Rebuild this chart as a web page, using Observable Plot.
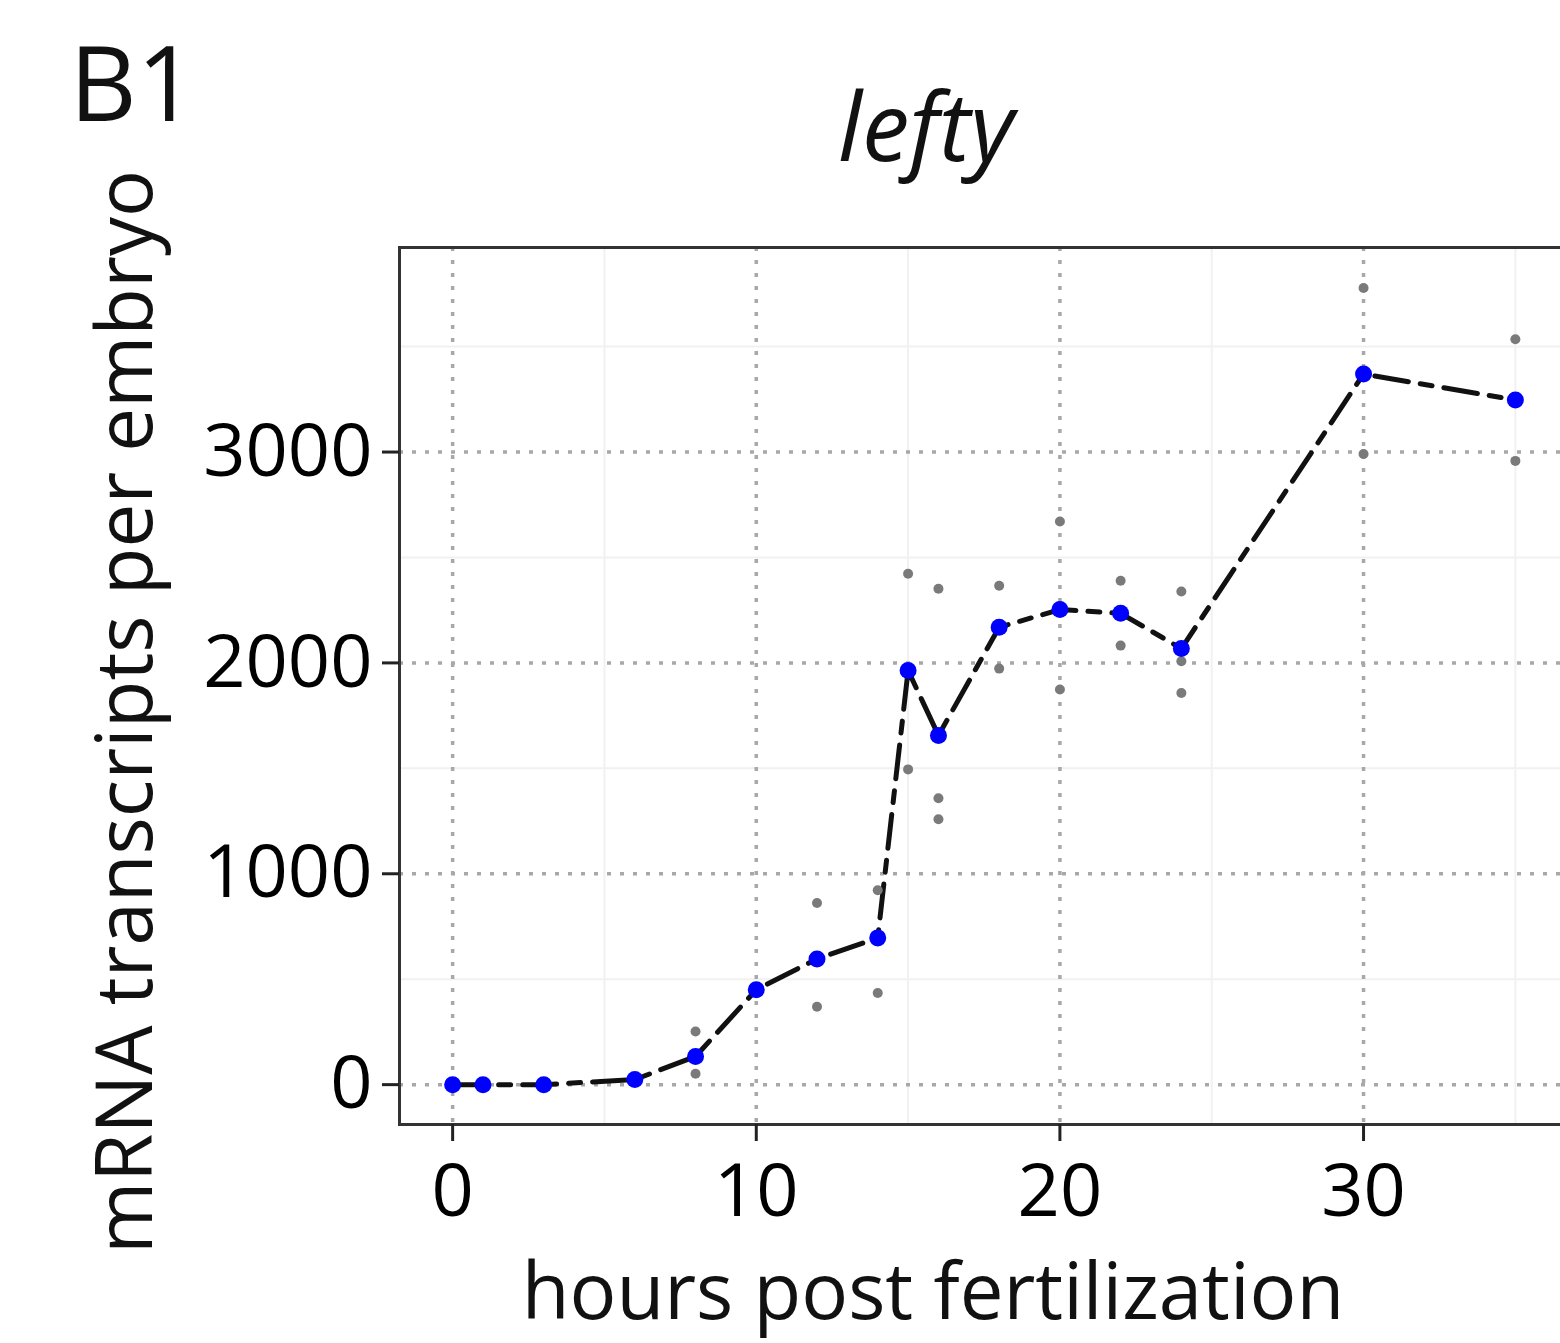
<!DOCTYPE html>
<html>
<head>
<meta charset="utf-8">
<script src="https://cdn.jsdelivr.net/npm/d3@7"></script>
<script src="https://cdn.jsdelivr.net/npm/@observablehq/plot@0.6"></script>
<style>
  html, body { margin: 0; padding: 0; background: #fff; overflow: hidden; }
  #chart { width: 1560px; height: 1343px; overflow: hidden; }
  #chart svg { max-width: none !important; }
</style>
</head>
<body>
<div id="chart"></div>
<script>
// Mean values (blue)
const meanHours = [0, 1, 3, 6, 8, 10, 12, 14, 15, 16, 18, 20, 22, 24, 30, 35];
const meanValues = [0, 0, 0, 24, 134, 450, 596, 696, 1964, 1656, 2169, 2253, 2235, 2068, 3370, 3247];

// Replicate values (grey), visible ones
const repHours = [8, 8, 12, 12, 14, 14, 15, 15, 16, 16, 16, 18, 18, 20, 20, 22, 22, 24, 24, 24, 30, 30, 35, 35];
const repValues = [252, 52, 861, 369, 922, 435, 2423, 1495, 2352, 1358, 1259, 2366, 1973, 2671, 1874, 2390, 2082, 2339, 1857, 2008, 3778, 2991, 3535, 2958];

const xTicks = [0, 10, 20, 30];
const yTicks = [0, 1000, 2000, 3000];
const xMinor = [5, 15, 25, 35];
const yMinor = [500, 1500, 2500, 3500];

const panelLabel = "B1";
const title = "lefty";
const xLabel = "hours post fertilization";
const yLabel = "mRNA transcripts per embryo";

const means = meanHours.map((h, i) => ({hour: h, value: meanValues[i]}));
const reps = repHours.map((h, i) => ({hour: h, value: repValues[i]}));

const font = "'Open Sans', 'Noto Sans', sans-serif";

const chart = Plot.plot({
  width: 1570,
  height: 1343,
  marginLeft: 399,
  marginRight: 2,
  marginTop: 247,
  marginBottom: 219,
  style: {fontFamily: font, color: "#000", background: "#fff", overflow: "hidden", maxWidth: "none"},
  x: {domain: [-1.75, 36.75]},
  y: {domain: [-189, 3970]},
  marks: [
    Plot.gridX(xMinor, {stroke: "#f1f1f1", strokeWidth: 2, strokeOpacity: 1}),
    Plot.gridY(yMinor, {stroke: "#f1f1f1", strokeWidth: 2, strokeOpacity: 1}),
    Plot.gridX(xTicks, {stroke: "#a8a8a8", strokeWidth: 3.5, strokeOpacity: 1, strokeDasharray: "4,9"}),
    Plot.gridY(yTicks, {stroke: "#a8a8a8", strokeWidth: 3.5, strokeOpacity: 1, strokeDasharray: "4,9"}),
    Plot.frame({stroke: "#333", strokeWidth: 3}),
    Plot.axisX(xTicks, {tickSize: 17, tickPadding: 22, fontSize: 74, label: null, stroke: "#222", strokeWidth: 3, tickFormat: d3.format("d")}),
    Plot.axisY(yTicks, {tickSize: 17, tickPadding: 10, fontSize: 74, label: null, stroke: "#222", strokeWidth: 3, tickFormat: d3.format("d")}),
    Plot.line(means, {x: "hour", y: "value", stroke: "#111", strokeWidth: 5, strokeDasharray: "34,12,12,12"}),
    Plot.dot(reps, {x: "hour", y: "value", fill: "#7a7a7a", r: 5, stroke: "none"}),
    Plot.dot(means, {x: "hour", y: "value", fill: "#0000ff", r: 8.5, stroke: "none"}),
    Plot.text([title], {frameAnchor: "top", text: d => d, dx: -58, dy: -87, lineAnchor: "bottom", textAnchor: "middle", fontSize: 95, fontStyle: "italic", fill: "#111"}),
    Plot.text([panelLabel], {frameAnchor: "top-left", text: d => d, dx: -330, dy: -127, lineAnchor: "bottom", textAnchor: "start", fontSize: 104, fill: "#111"}),
    Plot.text([xLabel], {frameAnchor: "bottom", text: d => d, dx: -51, dy: 194, lineAnchor: "bottom", textAnchor: "middle", fontSize: 78, fill: "#111"}),
    Plot.text([yLabel], {frameAnchor: "left", text: d => d, dx: -272, dy: 26, rotate: -90, lineAnchor: "middle", textAnchor: "middle", fontSize: 78, fill: "#111"})
  ]
});
document.getElementById("chart").appendChild(chart);
</script>
</body>
</html>
